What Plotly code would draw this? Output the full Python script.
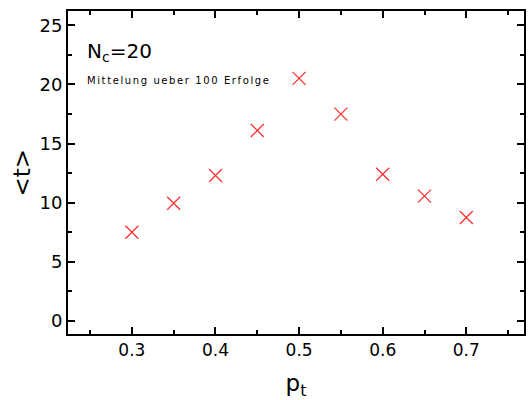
import plotly.graph_objects as go

p_t = [0.30, 0.35, 0.40, 0.45, 0.50, 0.55, 0.60, 0.65, 0.70]
t_mean = [7.5, 9.95, 12.3, 16.1, 20.5, 17.48, 12.4, 10.55, 8.75]

x_ticks = [0.3, 0.4, 0.5, 0.6, 0.7]
y_ticks = [0, 5, 10, 15, 20, 25]

fig = go.Figure()
fig.add_trace(go.Scatter(
    x=p_t, y=t_mean, mode="markers",
    marker=dict(symbol="x-thin", size=13, line=dict(color="#ff2a2a", width=1.2), color="#ff2a2a"),
    showlegend=False,
))

font = "DejaVu Sans, Verdana, sans-serif"
axis_common = dict(
    showline=True, linecolor="black", linewidth=2, mirror="allticks",
    ticks="inside", ticklen=7, tickwidth=1.5, tickcolor="black",
    showgrid=False, zeroline=False,
)
fig.update_xaxes(
    range=[0.2236, 0.769], tickvals=x_ticks, ticktext=[f"{v:.1f}" for v in x_ticks],
    tickfont=dict(family=font, size=17, color="black"),
    minor=dict(ticks="inside", ticklen=4, tickwidth=1.5, tickcolor="black", dtick=0.05, tick0=0.25),
    title=dict(text="p<sub>t</sub>", font=dict(family=font, size=23, color="black"), standoff=20),
    **axis_common,
)
fig.update_yaxes(
    range=[-1.1, 26.2], tickvals=y_ticks,
    tickfont=dict(family=font, size=18, color="black"),
    minor=dict(ticks="inside", ticklen=4, tickwidth=1.5, tickcolor="black", dtick=2.5, tick0=0),
    **axis_common,
)
# y-axis title as a rotated annotation (axis titles are clamped to the margin)
fig.add_annotation(x=-0.103, y=0.5, xref="paper", yref="paper", text="&lt;t&gt;",
                   textangle=-90, showarrow=False, xanchor="center", yanchor="middle",
                   font=dict(family=font, size=23, color="black"))
fig.add_annotation(x=0.2435, y=22.7, xref="x", yref="y", text="N<sub>c</sub>=20",
                   showarrow=False, xanchor="left", yanchor="middle",
                   font=dict(family=font, size=20, color="black"))
fig.add_annotation(x=0.2435, y=20.3, xref="x", yref="y",
                   text='<span style="letter-spacing:1.6px">Mittelung ueber 100 Erfolge</span>',
                   showarrow=False, xanchor="left", yanchor="middle",
                   font=dict(family=font, size=10, color="black"))
fig.update_layout(
    width=529, height=400,
    margin=dict(l=68, r=3, t=11, b=66),
    plot_bgcolor="white", paper_bgcolor="white",
)
fig.write_html("out.html", config={"displayModeBar": False},
               post_script="document.body.style.margin='0';document.body.style.overflow='hidden';")
